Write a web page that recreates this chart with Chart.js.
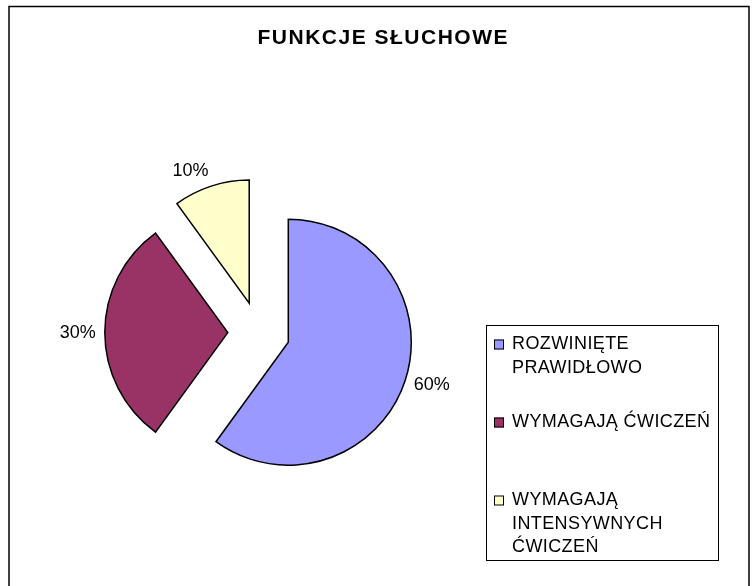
<!DOCTYPE html>
<html>
<head>
<meta charset="utf-8">
<title>Funkcje słuchowe</title>
<script src="https://cdn.jsdelivr.net/npm/chart.js@4"></script>
<style>
    body { margin: 0; background: #fff; }
    canvas { display: block; }
</style>
</head>
<body>
<canvas id="pieChart" width="754" height="586"></canvas>
<script>
// Chart data
const chartTitle = "FUNKCJE SŁUCHOWE";
const categories = [
    ["ROZWINIĘTE", "PRAWIDŁOWO"],
    ["WYMAGAJĄ ĆWICZEŃ"],
    ["WYMAGAJĄ", "INTENSYWNYCH", "ĆWICZEŃ"]
];
const values = [60, 30, 10];
const sliceColors = ["#9999FF", "#993366", "#FFFFCC"];

const FONT = "'Liberation Sans', Arial, sans-serif";
const RADIUS = 123;
const EXPLODE = 31;   // how far every slice is pulled out of the centre (px)
const LABEL_GAP = 9;  // gap between slice edge and its percentage label

const total = values.reduce((a, b) => a + b, 0);

// Explodes the slices, draws the frame, the percentage labels and the boxed legend
const decorations = {
    id: "decorations",
    afterDatasetUpdate(chart, args) {
        // pull every arc out along its middle angle (Chart.js "offset" also bends the edges)
        args.meta.data.forEach(arc => {
            const mid = (arc.startAngle + arc.endAngle) / 2;
            arc.x += Math.cos(mid) * EXPLODE;
            arc.y += Math.sin(mid) * EXPLODE;
        });
    },
    beforeDraw(chart) {
        chart.ctx.letterSpacing = "1.5px"; // wide title lettering
    },
    afterDraw(chart) {
        const ctx = chart.ctx;
        ctx.save();
        ctx.letterSpacing = "0px";

        // outer frame (bottom edge is off the picture)
        ctx.strokeStyle = "#000";
        ctx.lineWidth = 1.5;
        ctx.beginPath();
        ctx.moveTo(9, 586);
        ctx.lineTo(9, 6.5);
        ctx.lineTo(749, 6.5);
        ctx.lineTo(749, 586);
        ctx.stroke();

        // percentage labels outside each slice
        ctx.font = "18px " + FONT;
        ctx.fillStyle = "#000";
        ctx.textAlign = "center";
        ctx.textBaseline = "middle";
        const meta = chart.getDatasetMeta(0);
        meta.data.forEach((arc, i) => {
            const mid = (arc.startAngle + arc.endAngle) / 2;
            const dx = Math.cos(mid);
            const dy = Math.sin(mid);
            const dist = arc.outerRadius + LABEL_GAP;
            const px = arc.x + dx * dist;
            const py = arc.y + dy * dist;
            const text = Math.round(values[i] / total * 100) + "%";
            const w = ctx.measureText(text).width;
            const x = Math.abs(dx) > 0.05 ? px + Math.sign(dx) * w / 2 : px;
            const y = py + dy * 7;
            ctx.fillText(text, x, y);
        });

        // legend box
        const box = { left: 486.5, top: 325.5, width: 232, height: 235 };
        ctx.lineWidth = 1;
        ctx.strokeRect(box.left, box.top, box.width, box.height);
        ctx.letterSpacing = "0.4px";
        ctx.textAlign = "left";
        categories.forEach((lines, i) => {
            const y0 = box.top + 19 + i * 78;
            ctx.fillStyle = sliceColors[i];
            ctx.fillRect(494, y0 - 5, 10, 10);
            ctx.strokeRect(494.5, y0 - 4.5, 9, 9);
            ctx.fillStyle = "#000";
            lines.forEach((line, j) => {
                ctx.fillText(line, 512, y0 + j * 23.5);
            });
        });

        ctx.restore();
        ctx.letterSpacing = "0px";
    }
};

const pieChart = new Chart(document.getElementById("pieChart"), {
    type: "pie",
    data: {
        labels: categories,
        datasets: [{
            data: values,
            backgroundColor: sliceColors,
            borderColor: "#000",
            borderWidth: 1.5,
            borderJoinStyle: "miter",
            clip: false
        }]
    },
    options: {
        responsive: false,
        animation: false,
        events: [],
        radius: RADIUS,
        layout: {
            padding: { left: 8.6, right: 245, top: 0, bottom: 0 }
        },
        plugins: {
            legend: { display: false },
            tooltip: { enabled: false },
            title: {
                display: true,
                text: chartTitle,
                align: "end",
                color: "#000",
                font: { family: FONT, size: 21, weight: "bold" },
                padding: { top: 26, bottom: 28 }
            }
        }
    },
    plugins: [decorations]
});
</script>
</body>
</html>
